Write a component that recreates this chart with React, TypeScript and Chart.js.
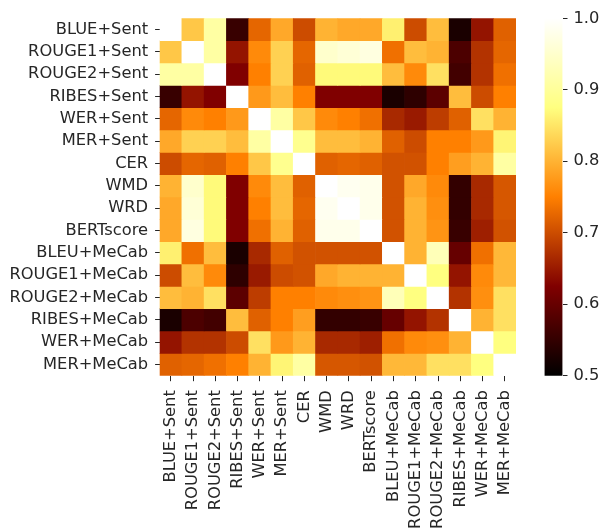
import React, { useEffect, useRef } from "react";
import { Chart, registerables } from "chart.js";
Chart.register(...registerables);

const labels = [
  "BLUE+Sent", "ROUGE1+Sent", "ROUGE2+Sent", "RIBES+Sent", "WER+Sent", "MER+Sent",
  "CER", "WMD", "WRD", "BERTscore", "BLEU+MeCab", "ROUGE1+MeCab", "ROUGE2+MeCab",
  "RIBES+MeCab", "WER+MeCab", "MER+MeCab",
];

const rowBlueSent = [1.0, 0.82, 0.91, 0.555, 0.725, 0.79, 0.70, 0.80, 0.79, 0.79, 0.86, 0.70, 0.81, 0.525, 0.645, 0.72];
const rowRouge1Sent = [0.82, 1.0, 0.91, 0.645, 0.76, 0.83, 0.725, 0.95, 0.96, 0.97, 0.735, 0.81, 0.80, 0.575, 0.675, 0.725];
const rowRouge2Sent = [0.91, 0.91, 1.0, 0.625, 0.75, 0.83, 0.72, 0.87, 0.87, 0.87, 0.81, 0.76, 0.845, 0.565, 0.675, 0.735];
const rowRibesSent = [0.555, 0.645, 0.625, 1.0, 0.775, 0.81, 0.75, 0.625, 0.625, 0.625, 0.525, 0.545, 0.59, 0.81, 0.70, 0.75];
const rowWerSent = [0.725, 0.76, 0.75, 0.775, 1.0, 0.91, 0.82, 0.76, 0.75, 0.735, 0.665, 0.65, 0.685, 0.72, 0.845, 0.80];
const rowMerSent = [0.79, 0.83, 0.83, 0.81, 0.91, 1.0, 0.89, 0.81, 0.81, 0.80, 0.72, 0.70, 0.75, 0.75, 0.775, 0.865];
const rowCer = [0.70, 0.725, 0.72, 0.75, 0.82, 0.89, 1.0, 0.72, 0.725, 0.72, 0.705, 0.705, 0.75, 0.78, 0.80, 0.91];
const rowWmd = [0.80, 0.95, 0.87, 0.625, 0.76, 0.81, 0.72, 1.0, 0.985, 0.98, 0.705, 0.79, 0.76, 0.55, 0.665, 0.71];
const rowWrd = [0.79, 0.96, 0.87, 0.625, 0.75, 0.81, 0.725, 0.985, 1.0, 0.98, 0.705, 0.80, 0.765, 0.55, 0.665, 0.71];
const rowBert = [0.79, 0.97, 0.87, 0.625, 0.735, 0.80, 0.72, 0.98, 0.98, 1.0, 0.705, 0.80, 0.77, 0.555, 0.655, 0.705];
const rowBleuMecab = [0.86, 0.735, 0.81, 0.525, 0.665, 0.72, 0.705, 0.705, 0.705, 0.705, 1.0, 0.80, 0.93, 0.60, 0.735, 0.805];
const rowRouge1Mecab = [0.70, 0.81, 0.76, 0.545, 0.65, 0.70, 0.705, 0.79, 0.80, 0.80, 0.80, 1.0, 0.875, 0.645, 0.76, 0.805];
const rowRouge2Mecab = [0.81, 0.80, 0.845, 0.59, 0.685, 0.75, 0.75, 0.76, 0.765, 0.77, 0.93, 0.875, 1.0, 0.675, 0.765, 0.845];
const rowRibesMecab = [0.525, 0.575, 0.565, 0.81, 0.72, 0.75, 0.78, 0.55, 0.55, 0.555, 0.60, 0.645, 0.675, 1.0, 0.80, 0.845];
const rowWerMecab = [0.645, 0.675, 0.675, 0.70, 0.845, 0.775, 0.80, 0.665, 0.665, 0.655, 0.735, 0.76, 0.765, 0.80, 1.0, 0.875];
const rowMerMecab = [0.72, 0.725, 0.735, 0.75, 0.80, 0.865, 0.91, 0.71, 0.71, 0.705, 0.805, 0.805, 0.845, 0.845, 0.875, 1.0];

const matrix = [
  rowBlueSent, rowRouge1Sent, rowRouge2Sent, rowRibesSent, rowWerSent, rowMerSent,
  rowCer, rowWmd, rowWrd, rowBert, rowBleuMecab, rowRouge1Mecab, rowRouge2Mecab,
  rowRibesMecab, rowWerMecab, rowMerMecab,
];

const VMIN = 0.5;
const VMAX = 1.0;
const colorbarTicks = [0.5, 0.6, 0.7, 0.8, 0.9, 1.0];

const TEXT = "#262626";

function clamp(v: number) {
  return Math.max(0, Math.min(1, v));
}

function afmhot(v: number) {
  const x = clamp((v - VMIN) / (VMAX - VMIN));
  const r = Math.round(clamp(2 * x) * 255);
  const g = Math.round(clamp(2 * x - 0.5) * 255);
  const b = Math.round(clamp(2 * x - 1) * 255);
  return `rgb(${r},${g},${b})`;
}

export default function App() {
  const heatRef = useRef<HTMLCanvasElement | null>(null);
  const barRef = useRef<HTMLCanvasElement | null>(null);

  useEffect(() => {
    document.body.style.margin = "0";
    Chart.defaults.font.family = "'DejaVu Sans'";
    Chart.defaults.font.size = 16.3;
    Chart.defaults.color = TEXT;

    const heat = new Chart(heatRef.current as HTMLCanvasElement, {
      type: "bar",
      data: {
        labels,
        datasets: matrix.map((row, r) => ({
          label: labels[r],
          data: row.map(() => [r, r + 1]),
          backgroundColor: row.map(afmhot),
          borderWidth: 0,
          barPercentage: 1,
          categoryPercentage: 1,
          grouped: false,
        })),
      } as any,
      options: {
        responsive: false,
        animation: false,
        layout: { padding: { top: 18.3, right: 87, left: 0, bottom: 0 } },
        plugins: { legend: { display: false }, tooltip: { enabled: false } },
        scales: {
          x: {
            type: "category",
            grid: { offset: false, drawOnChartArea: false, tickLength: 5.5, tickColor: TEXT, color: TEXT },
            border: { display: false },
            ticks: { minRotation: 90, maxRotation: 90, autoSkip: false, padding: 9, color: TEXT },
            afterFit: (s: any) => {
              s.height = 154.3;
            },
          },
          y: {
            type: "linear",
            min: 0,
            max: 16,
            reverse: true,
            afterBuildTicks: (s: any) => {
              s.ticks = labels.map((_, i) => ({ value: i + 0.5 }));
            },
            ticks: {
              autoSkip: false,
              padding: 7,
              color: TEXT,
              callback: (v: any) => labels[Math.floor(Number(v))],
            },
            grid: { drawOnChartArea: false, tickLength: 4.5, tickColor: TEXT, color: TEXT },
            border: { display: false },
            afterFit: (s: any) => {
              s.width = 159.6;
            },
          },
        },
      } as any,
    });

    const cb = new Chart(barRef.current as HTMLCanvasElement, {
      type: "bar",
      data: {
        labels: ["colorbar"],
        datasets: [
          {
            data: [[VMIN, VMAX]],
            backgroundColor: (ctx: any) => {
              const chart = ctx.chart;
              if (!chart.chartArea) return "transparent";
              const y = chart.scales.y;
              const g = chart.ctx.createLinearGradient(0, y.getPixelForValue(VMIN), 0, y.getPixelForValue(VMAX));
              [0, 0.25, 0.5, 0.75, 1].forEach((t) => g.addColorStop(t, afmhot(VMIN + t * (VMAX - VMIN))));
              return g;
            },
            borderWidth: 0,
            barPercentage: 1,
            categoryPercentage: 1,
          },
        ],
      } as any,
      options: {
        responsive: false,
        animation: false,
        layout: { padding: { left: 544.5, top: 18.3, right: 0, bottom: 154.3 } },
        plugins: { legend: { display: false }, tooltip: { enabled: false } },
        scales: {
          x: { display: false },
          y: {
            position: "right",
            min: VMIN,
            max: VMAX,
            afterBuildTicks: (s: any) => {
              s.ticks = colorbarTicks.map((v) => ({ value: v }));
            },
            ticks: { padding: 6, color: TEXT, callback: (v: any) => Number(v).toFixed(1) },
            grid: { drawOnChartArea: false, tickLength: 5, tickColor: TEXT, color: TEXT },
            border: { display: false },
            afterFit: (s: any) => {
              s.width = 40.5;
            },
          },
        },
      } as any,
    });

    return () => {
      heat.destroy();
      cb.destroy();
    };
  }, []);

  return (
    <div style={{ position: "relative", width: 603, height: 530, background: "#fff" }}>
      <canvas ref={heatRef} width={603} height={530} style={{ position: "absolute", left: 0, top: 0 }} />
      <canvas ref={barRef} width={603} height={530} style={{ position: "absolute", left: 0, top: 0 }} />
    </div>
  );
}
